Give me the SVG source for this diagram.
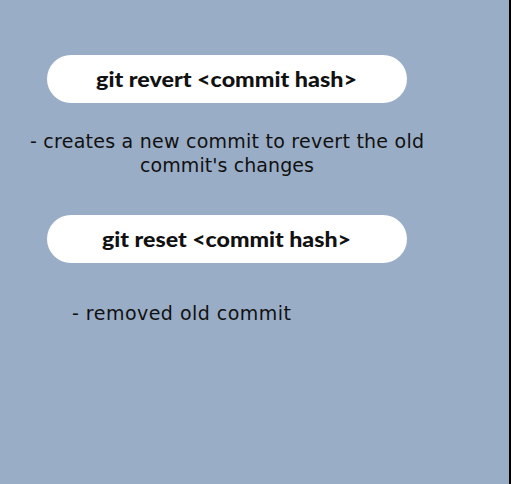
<svg xmlns="http://www.w3.org/2000/svg" width="511" height="484" viewBox="0 0 511 484">
<style>
.pill{fill:#ffffff}
.cmd{font-family:"Lato","Open Sans",sans-serif;font-weight:900;font-size:21px;fill:#111111}
.desc{font-family:"DejaVu Sans",sans-serif;font-size:19px;fill:#111111}
</style>
<rect x="0" y="0" width="511" height="484" fill="#9aadc6"/>
<rect x="509" y="0" width="2" height="484" fill="#000000"/>
<g id="node-revert">
<rect class="pill" x="47" y="55" width="360" height="48" rx="24"/>
<text class="cmd" x="96" y="87" textLength="261" lengthAdjust="spacingAndGlyphs">git revert &lt;commit hash&gt;</text>
</g>
<g id="text-revert">
<text class="desc" x="30" y="148" textLength="394" lengthAdjust="spacing">- creates a new commit to revert the old</text>
<text class="desc" x="140" y="172" textLength="174" lengthAdjust="spacing">commit's changes</text>
</g>
<g id="node-reset">
<rect class="pill" x="47" y="215" width="360" height="48" rx="24"/>
<text class="cmd" x="102" y="247" textLength="249" lengthAdjust="spacingAndGlyphs">git reset &lt;commit hash&gt;</text>
</g>
<g id="text-reset">
<text class="desc" x="72" y="320" textLength="219" lengthAdjust="spacing">- removed old commit</text>
</g>
<g id="connectors"/>
</svg>
